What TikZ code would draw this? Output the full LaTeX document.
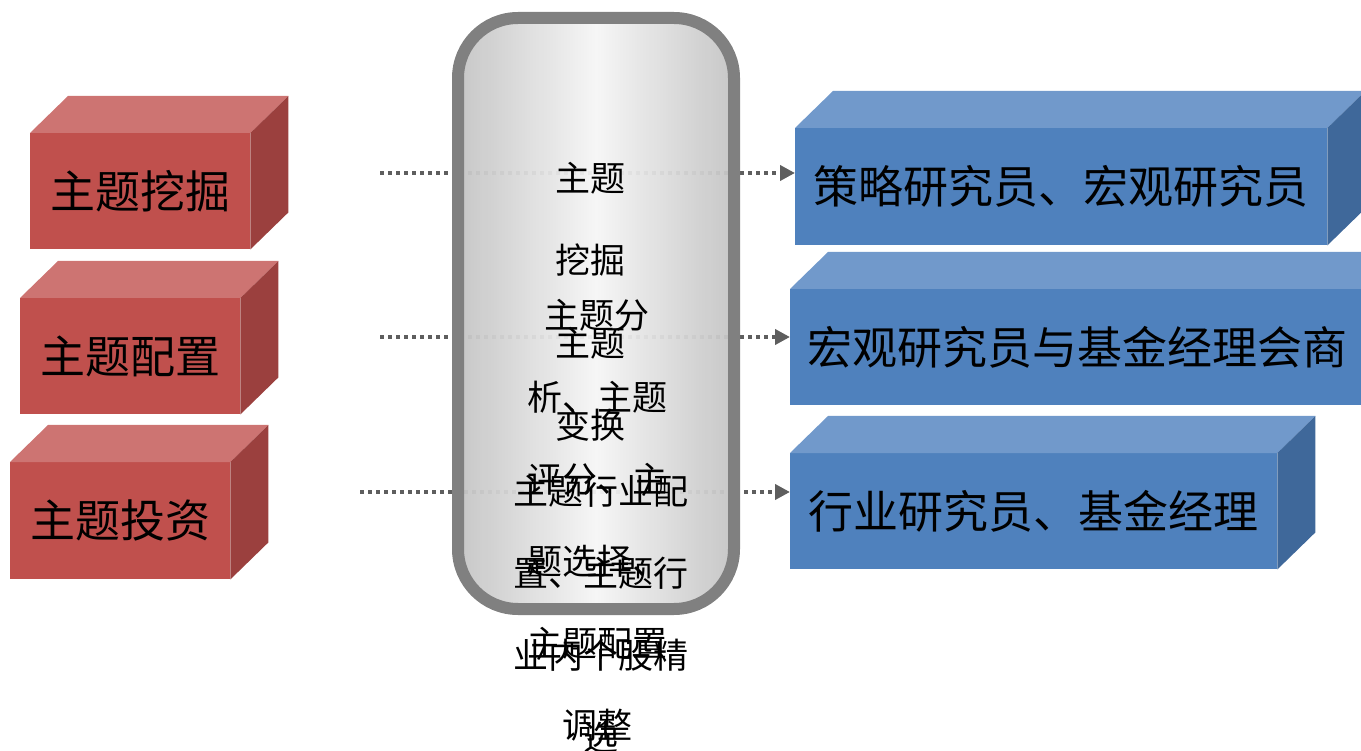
\documentclass[tikz,border=0pt]{standalone}
\usepackage{fontspec}
\newfontfamily\cjk{Noto Sans CJK SC}
\usetikzlibrary{arrows.meta}

\definecolor{redfront}{HTML}{C0504D}
\definecolor{redtop}{HTML}{CD7472}
\definecolor{redside}{HTML}{9B403E}
\definecolor{bluefront}{HTML}{4F81BD}
\definecolor{bluetop}{HTML}{7199CB}
\definecolor{blueside}{HTML}{3F689A}
\definecolor{hubedge}{HTML}{808080}
\definecolor{hubside}{HTML}{C4C4C4}
\definecolor{hubmid}{HTML}{F5F5F5}
\definecolor{dotgray}{HTML}{5E5E5E}

\tikzset{
	face/.style={minimum height=116pt, anchor=north west, inner sep=0pt, font=\cjk\fontsize{45}{45}\selectfont},
	redbox/.style={face, fill=redfront, minimum width=220pt},
	bluebox/.style={face, fill=bluefront},
	hubtext/.style={font=\cjk\fontsize{35}{82}\selectfont, align=center, inner sep=0pt},
	feed/.style={draw=dotgray, line width=4pt, dash pattern=on 4pt off 4pt, -{Triangle[length=15pt, width=15pt, fill=dotgray]}}
}

% top and side faces of a box: node, top colour, side colour
\newcommand\boxfaces[3]{%
	\fill[#2] (#1.north west) -- ++(38,-37) -- ([shift={(38pt,37pt)}]#1.north east) -- (#1.north east) -- cycle;
	\fill[#3] (#1.north east) -- ([shift={(38pt,37pt)}]#1.north east) -- ([shift={(38pt,37pt)}]#1.south east) -- (#1.south east) -- cycle;
}

\begin{document}
\begin{tikzpicture}[x=1pt, y=-1pt]
	\useasboundingbox (0,0) rectangle (1361,751);
	\clip (0,0) rectangle (1361,751);

	\node [redbox] (mine) at (30,133) {主题挖掘};
	\node [redbox] (alloc) at (20,298) {主题配置};
	\node [redbox, minimum height=117pt] (invest) at (10,462) {主题投资};
	\boxfaces{mine}{redtop}{redside}
	\boxfaces{alloc}{redtop}{redside}
	\boxfaces{invest}{redtop}{redside}

	\node [bluebox, minimum width=532pt, minimum height=117pt] (strat) at (795,128) {策略研究员、宏观研究员};
	\node [bluebox, minimum width=575pt] (macro) at (790,289) {宏观研究员与基金经理会商};
	\node [bluebox, minimum width=487pt] (sector) at (790,453) {行业研究员、基金经理};
	\boxfaces{strat}{bluetop}{blueside}
	\boxfaces{macro}{bluetop}{blueside}
	\boxfaces{sector}{bluetop}{blueside}

	\coordinate (s1) at (380,173);
	\coordinate (s2) at (380,337);
	\coordinate (s3) at (360,492);
	\draw [feed] (s1) -- (s1 -| strat.west);
	\draw [feed] (s2) -- (s2 -| macro.west);
	\draw [feed] (s3) -- (s3 -| sector.west);

	\node [draw=hubedge, line width=12pt, rounded corners=60pt, left color=hubside, right color=hubside, middle color=hubmid, fill opacity=0.95, draw opacity=1, minimum width=276pt, minimum height=591pt] (hub) at (596,313.5) {};

	\node [hubtext] (hubmine) at (590,219) {主题\\挖掘};
	\node [hubtext] (hubshift) at (590,384) {主题\\变换};
	\node [hubtext] (hubanalyse) at (597,520.5) {主题分\\析、主题\\评分、主\\题选择、\\主题配置\\调整};
	\node [hubtext] (hubsector) at (601,614) {主题行业配\\置、主题行\\业内个股精\\选};
\end{tikzpicture}
\end{document}
